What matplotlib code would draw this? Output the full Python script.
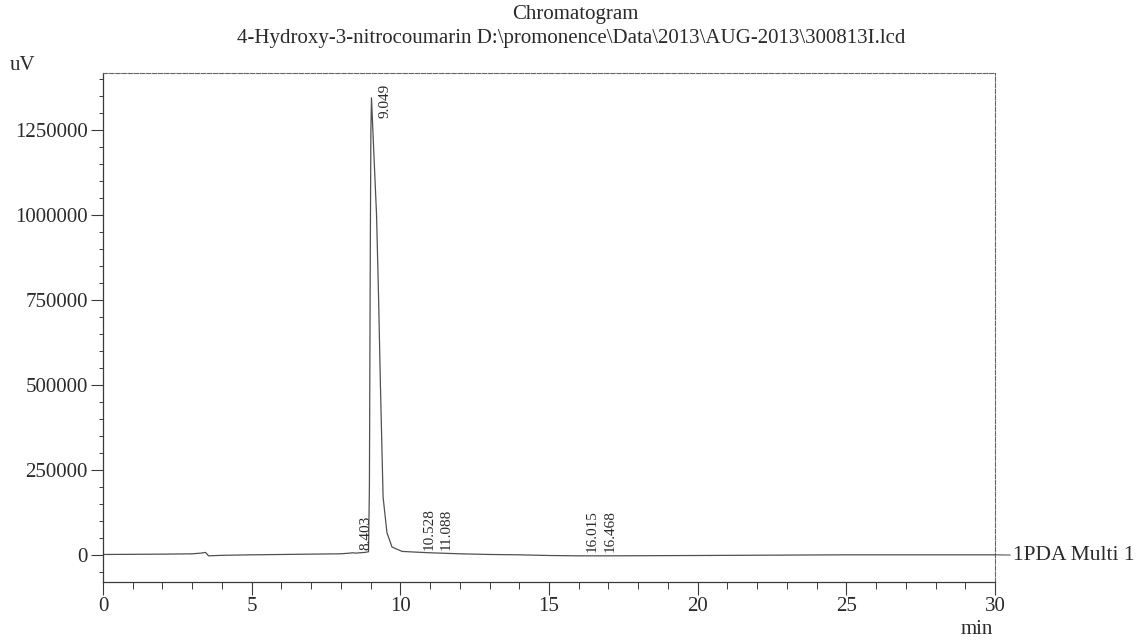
import matplotlib
matplotlib.use("Agg")
import matplotlib.pyplot as plt
from matplotlib.ticker import MultipleLocator, FixedLocator

# ---- data ----
time_min = [0, 1, 2, 3, 3.3, 3.45, 3.55, 4, 5, 6, 7, 8, 8.3, 8.4, 8.5, 8.8,
            8.93, 8.96, 8.99, 9.01, 9.03, 9.1, 9.2, 9.27, 9.33, 9.42, 9.55,
            9.72, 10.06, 10.5, 11, 12, 13, 14, 15, 16, 17, 20, 25, 30]
signal_uv = [1000, 1500, 2000, 3000, 5000, 7000, -3000, -1500, 0, 1000, 2000,
             3000, 5000, 6000, 5000, 7000, 9000, 200000, 900000, 1250000,
             1345000, 1200000, 1000000, 750000, 500000, 170000, 65000,
             23000, 10000, 8000, 6000, 3000, 1000, 0, -2000, -3000, -3000,
             -2000, 0, 0]

peak_times = [8.403, 9.049, 10.528, 11.088, 16.015, 16.468]
peak_labels = ["8.403", "9.049", "10.528", "11.088", "16.015", "16.468"]
peak_label_y = [15000, 1335000, 15000, 15000, 8000, 8000]

yticks = [0, 250000, 500000, 750000, 1000000, 1250000]
xticks = [0, 5, 10, 15, 20, 25, 30]

title_line1 = "Chromatogram"
title_line2 = "4-Hydroxy-3-nitrocoumarin D:\\promonence\\Data\\2013\\AUG-2013\\300813I.lcd"
trace_name = "1PDA Multi 1"

# ---- figure ----
plt.rcParams['font.family'] = ['Liberation Serif', 'DejaVu Serif']
fig = plt.figure(figsize=(11.43, 6.42), dpi=100)
ax = fig.add_axes([103/1143, 1-582/642, (995-103)/1143, (582-73)/642])

ink = '#3a3a3a'
txt = '#2a2a2a'
ax.plot(time_min, signal_uv, color='#505050', lw=0.9)

ax.set_xlim(0, 30)
ax.set_ylim(-80000, 1418000)

ax.xaxis.set_major_locator(FixedLocator(xticks))
ax.xaxis.set_minor_locator(MultipleLocator(1))
ax.yaxis.set_major_locator(FixedLocator(yticks))
ax.yaxis.set_minor_locator(MultipleLocator(50000))
ax.set_yticklabels([str(v) for v in yticks])
ax.set_xticklabels([str(v) for v in xticks])

ax.tick_params(axis='both', which='major', direction='out', length=9,
               width=0.8, color=ink, labelsize=15, labelcolor=txt, pad=2)
ax.tick_params(axis='x', which='minor', direction='out', length=5,
               width=0.7, color=ink)
ax.tick_params(axis='y', which='minor', direction='out', length=3,
               width=0.7, color=ink)

for s in ['left', 'bottom']:
    ax.spines[s].set_color(ink)
    ax.spines[s].set_linewidth(0.9)
for s in ['top', 'right']:
    ax.spines[s].set_color('#666666')
    ax.spines[s].set_linewidth(0.8)
    ax.spines[s].set_linestyle((0, (4, 1.5)))

# peak labels (placed just right of each retention time)
for i, (t, lab, yv) in enumerate(zip(peak_times, peak_labels, peak_label_y)):
    va = 'center' if lab == "9.049" else 'bottom'
    dx = 0.6 if lab == "16.468" else 0.45
    ax.text(t + dx, yv, lab, rotation=90, ha='center', va=va,
            fontsize=11, color=txt)

# titles and axis unit labels
fig.text(0.503, 1-14/642, title_line1, ha='center', va='center',
         fontsize=15, color=txt)
fig.text(0.5, 1-38/642, title_line2, ha='center', va='center',
         fontsize=15, color=txt)
fig.text(10/1143, 1-66/642, "uV", ha='left', va='center', fontsize=15,
         color=txt)
fig.text(977/1143, 1-630/642, "min", ha='center', va='center', fontsize=15,
         color=txt)

# trace name with leader line
ax.annotate(trace_name, xy=(30, 0), xycoords='data',
            xytext=(1013/1143, 1-556/642), textcoords='figure fraction',
            ha='left', va='center', fontsize=15.5, color=txt,
            arrowprops=dict(arrowstyle='-', color='#555555', lw=0.8,
                            shrinkA=0, shrinkB=0),
            annotation_clip=False)

fig.savefig("out.png", dpi=100, facecolor='white')
